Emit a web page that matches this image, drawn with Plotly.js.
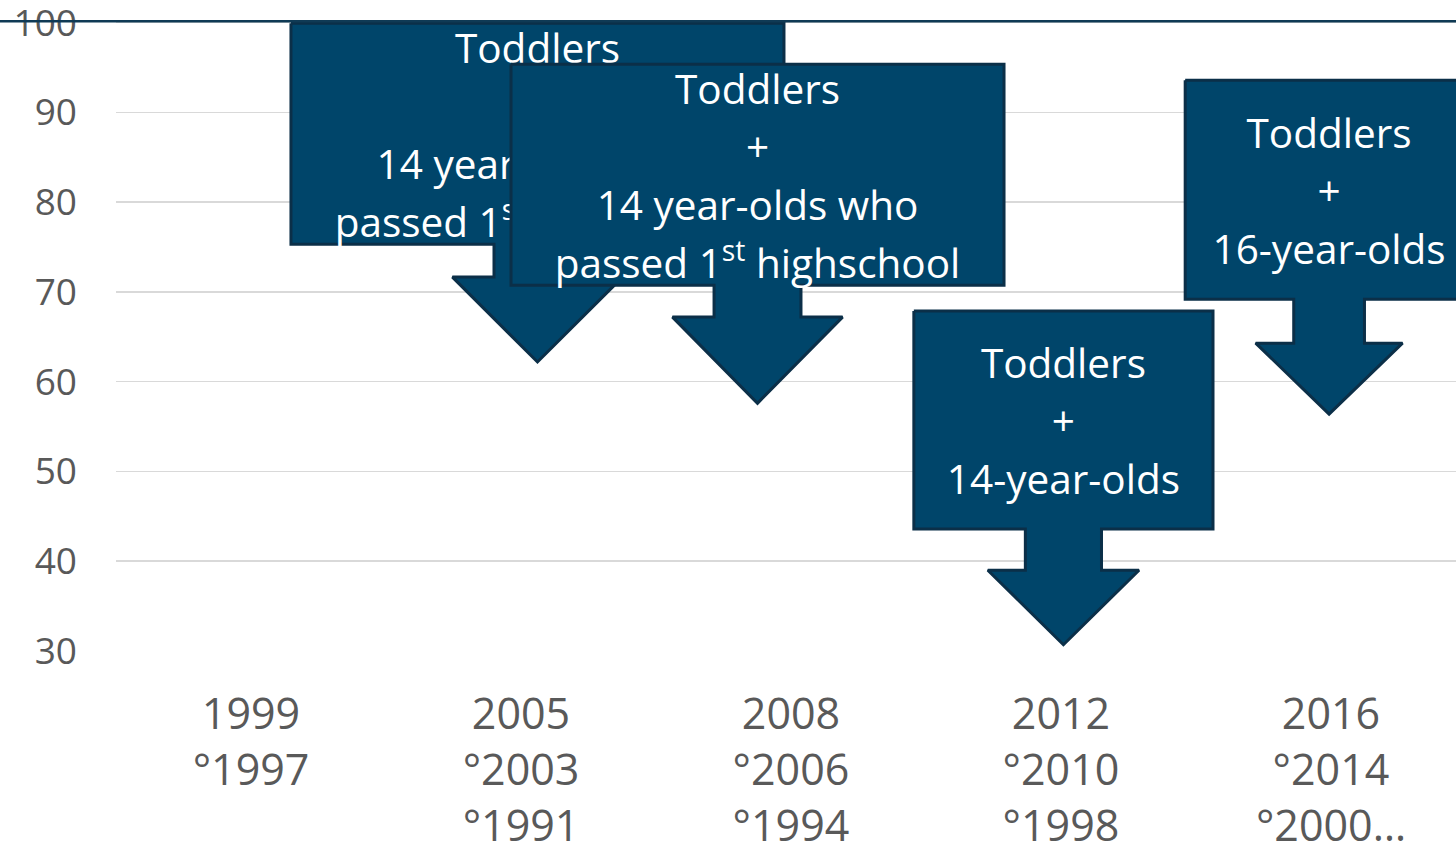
<!DOCTYPE html>
<html>
<head>
<meta charset="utf-8">
<script src="https://cdn.plot.ly/plotly-3.0.1.min.js"></script>
<style>html,body{margin:0;padding:0;background:#fff;}#chart{width:1456px;height:851px;}</style>
</head>
<body>
<div id="chart"></div>
<script>
// ---- data ----
const categories = [0, 1, 2, 3, 4];
const tickLabels = ["1999<br>°1997", "2005<br>°2003<br>°1991", "2008<br>°2006<br>°1994", "2012<br>°2010<br>°1998", "2016<br>°2014<br>°2000…"];
const yTicks = [30, 40, 50, 60, 70, 80, 90, 100];

// callouts (down-arrow boxes), in axis units
const calloutX = [1.061, 1.876, 3.009, 3.993];
const calloutTop = [99.94, 95.38, 67.87, 93.6];
const calloutBottom = [75.33, 70.76, 43.59, 69.2];
const calloutHeadBase = [71.66, 67.2, 39.0, 64.3];
const calloutTip = [62.2, 57.6, 30.7, 56.4];
const calloutHalfWidth = [0.913, 0.913, 0.554, 0.533];
const calloutShaftHalf = [0.161, 0.161, 0.141, 0.131];
const calloutHeadHalf = [0.315, 0.315, 0.28, 0.272];
const calloutLines = [
  ["Toddlers", "+", "14 year-olds who", "passed 1<sup>st</sup> highschool"],
  ["Toddlers", "+", "14 year-olds who", "passed 1<sup>st</sup> highschool"],
  ["Toddlers", "+", "14-year-olds"],
  ["Toddlers", "+", "16-year-olds"]
];
const lineStep = 6.46;   // one text line, in y units
const textDrop = 0.7;    // small downward nudge of the text block, in y units

const fillColor = "#00456A";
const edgeColor = "#0B2F48";
const FONT = "Open Sans, Noto Sans, sans-serif";

const traces = [];
for (let i = 0; i < calloutX.length; i++) {
  const cx = calloutX[i], bw = calloutHalfWidth[i], sw = calloutShaftHalf[i], hw = calloutHeadHalf[i];
  const t = calloutTop[i], b = calloutBottom[i], h = calloutHeadBase[i], tip = calloutTip[i];
  traces.push({
    type: "scatter", mode: "lines", fill: "toself", fillcolor: fillColor,
    line: {color: edgeColor, width: 3},
    x: [cx - bw, cx + bw, cx + bw, cx + sw, cx + sw, cx + hw, cx, cx - hw, cx - sw, cx - sw, cx - bw, cx - bw],
    y: [t, t, b, b, h, h, tip, h, h, b, b, t],
    hoverinfo: "skip", showlegend: false
  });
  const lines = calloutLines[i];
  const mid = (t + b) / 2 - textDrop;
  const ys = lines.map((_, k) => mid + ((lines.length - 1) / 2 - k) * lineStep);
  traces.push({
    type: "scatter", mode: "text",
    x: lines.map(() => cx), y: ys, text: lines,
    textposition: "middle center",
    textfont: {family: FONT, size: 40.5, color: "#ffffff"},
    hoverinfo: "skip", showlegend: false
  });
}

const layout = {
  width: 1456, height: 851,
  margin: {l: 116, r: 0, t: 19.8, b: 200, pad: 0},
  paper_bgcolor: "#ffffff", plot_bgcolor: "#ffffff",
  showlegend: false,
  xaxis: {
    range: [-0.5, 4.463], tickmode: "array", tickvals: categories, ticktext: tickLabels,
    showgrid: false, zeroline: false, showline: false, ticks: "",
    tickfont: {family: FONT, size: 43, color: "#595959"},
    ticklabelstandoff: 34, ticklabeloverflow: "allow", fixedrange: true
  },
  yaxis: {
    range: [30, 100.3], tickmode: "array", tickvals: yTicks,
    showgrid: true, gridcolor: "#D9D9D9", gridwidth: 1.5,
    zeroline: false, showline: false, ticks: "",
    tickfont: {family: FONT, size: 37, color: "#595959"},
    ticklabelstandoff: 38, ticklabeloverflow: "allow", fixedrange: true
  },
  shapes: [{
    type: "line", xref: "paper", yref: "paper",
    x0: -116 / 1340, x1: 1, y0: 0.998, y1: 0.998,
    line: {color: "#0F3A55", width: 2.5}
  }]
};

Plotly.newPlot("chart", traces, layout, {displayModeBar: false, staticPlot: true});
</script>
</body>
</html>
